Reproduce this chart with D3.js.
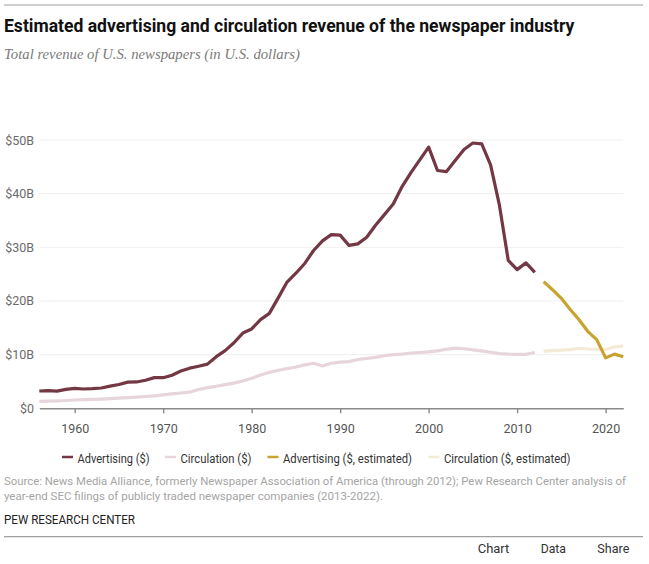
<!DOCTYPE html>
<html><head><meta charset="utf-8">
<script src="https://cdn.jsdelivr.net/npm/d3@7"></script>
<style>
html,body{margin:0;padding:0;background:#fff;}
svg{display:block;}
</style></head>
<body>
<svg id="c" width="649" height="564"></svg>
<script>
const years = d3.range(1956, 2013);
const advertising = [3.22,3.28,3.19,3.53,3.70,3.60,3.66,3.78,4.12,4.43,4.87,4.91,5.23,5.71,5.70,6.17,6.94,7.48,7.84,8.23,9.62,10.75,12.21,14.02,14.79,16.53,17.69,20.58,23.52,25.17,26.99,29.41,31.20,32.37,32.28,30.35,30.64,31.87,34.11,36.09,38.08,41.33,43.93,46.29,48.67,44.31,44.10,46.16,48.24,49.44,49.28,45.38,37.85,27.56,25.84,27.10,25.32];
const circulation = [1.30,1.35,1.40,1.45,1.55,1.60,1.65,1.72,1.80,1.90,2.00,2.10,2.20,2.30,2.50,2.70,2.85,3.00,3.50,3.85,4.10,4.40,4.70,5.10,5.60,6.20,6.70,7.10,7.40,7.70,8.10,8.40,7.90,8.40,8.60,8.70,9.10,9.30,9.50,9.80,10.00,10.10,10.30,10.40,10.50,10.70,11.00,11.20,11.10,10.90,10.70,10.45,10.20,10.10,10.05,10.05,10.40];
const estYears = d3.range(2013, 2023);
const advertisingEst = [23.6,22.1,20.5,18.4,16.5,14.3,12.8,9.4,10.1,9.6];
const circulationEst = [10.65,10.75,10.85,10.95,11.15,11.05,11.0,10.95,11.45,11.6];
const yTicks = [0,10,20,30,40,50];
const xTicks = [1960,1970,1980,1990,2000,2010,2020];
const seriesNames = ["Advertising ($)","Circulation ($)","Advertising ($, estimated)","Circulation ($, estimated)"];
const seriesColors = ["#733843","#e8d5dc","#c9a330","#f3ebd5"];

const svg = d3.select("#c");
const x = d3.scaleLinear().domain([1956, 2022]).range([39.3, 623.3]);
const y = d3.scaleLinear().domain([0, 50]).range([408.3, 140]);

const sans = "Roboto,'Liberation Sans','DejaVu Sans',sans-serif";

// shrink text to a target width: compress glyphs horizontally if wider
function fitLen(sel, w){
  const cur = sel.node().getComputedTextLength();
  if (cur > w) sel.attr("textLength", w).attr("lengthAdjust","spacingAndGlyphs");
  else sel.attr("font-size", (parseFloat(sel.attr("font-size")) * w / cur).toFixed(2));
}

// top rule
svg.append("line").attr("x1",4).attr("x2",643).attr("y1",5).attr("y2",5).attr("stroke","#a0a0a0").attr("stroke-width",1.2);

const title = svg.append("text").attr("x",4).attr("y",31.5).attr("font-family",sans).attr("font-weight","bold")
  .attr("font-size",17.5).attr("fill","#111").text("Estimated advertising and circulation revenue of the newspaper industry");
fitLen(title, 571);
const sub = svg.append("text").attr("x",4).attr("y",59).attr("font-family","'Liberation Serif','DejaVu Serif',serif").attr("font-style","italic")
  .attr("font-size",15).attr("fill","#7a7a7a").text("Total revenue of U.S. newspapers (in U.S. dollars)");
fitLen(sub, 296);

// grid
svg.append("g").selectAll("line").data(yTicks.filter(d=>d>0)).join("line")
  .attr("x1",x.range()[0]).attr("x2",x.range()[1]).attr("y1",d=>y(d)).attr("y2",d=>y(d))
  .attr("stroke","#efefef").attr("stroke-width",1);

svg.append("g").selectAll("text").data(yTicks).join("text")
  .attr("x",34).attr("y",d=>y(d)).attr("dy","0.36em").attr("text-anchor","end")
  .attr("font-family",sans).attr("font-size",12.5).attr("fill","#6b6b6b")
  .text(d=> d===0 ? "$0" : "$"+d+"B");

// x axis
const xAxis = d3.axisBottom(x).tickValues(xTicks).tickFormat(d3.format("d")).tickSize(5).tickSizeOuter(0);
const gx = svg.append("g").attr("transform",`translate(0,${y(0)})`).call(xAxis);
gx.select(".domain").attr("stroke","#8a8a8a").attr("stroke-width",1.4);
gx.selectAll(".tick line").attr("stroke","#8a8a8a").attr("stroke-width",1.4);
gx.selectAll(".tick text").attr("font-family",sans).attr("font-size",12.5).attr("fill","#555").attr("dy","1.3em");

// lines
const line = d3.line().x(d=>x(d[0])).y(d=>y(d[1]));
const data = [
  d3.zip(years, circulation),
  d3.zip(estYears, circulationEst),
  d3.zip(years, advertising),
  d3.zip(estYears, advertisingEst)
];
const colorIdx = [1,3,0,2];
svg.append("g").selectAll("path").data(data).join("path")
  .attr("d", line).attr("fill","none")
  .attr("stroke",(d,i)=>seriesColors[colorIdx[i]]).attr("stroke-width",3.2)
  .attr("stroke-linejoin","round");

// legend
const legX = [62,165,267.5,428.5];
const legW = [72,71,129,126.5];
const lg = svg.append("g");
seriesNames.forEach((n,i)=>{
  lg.append("line").attr("x1",legX[i]).attr("x2",legX[i]+11).attr("y1",457).attr("y2",457)
    .attr("stroke",seriesColors[i]).attr("stroke-width",2.5);
  const t = lg.append("text").attr("x",legX[i]+15.5).attr("y",458.3).attr("dy","0.36em")
    .attr("font-family",sans).attr("font-size",12.5).attr("fill","#333").text(n);
  fitLen(t, legW[i]);
});

// source
const s1 = svg.append("text").attr("x",4).attr("y",485).attr("font-family",sans).attr("font-size",11.5).attr("fill","#a5a5a5")
  .text("Source: News Media Alliance, formerly Newspaper Association of America (through 2012); Pew Research Center analysis of");
fitLen(s1, 622);
const s2 = svg.append("text").attr("x",4).attr("y",500).attr("font-family",sans).attr("font-size",11.5).attr("fill","#a5a5a5")
  .text("year-end SEC filings of publicly traded newspaper companies (2013-2022).");
fitLen(s2, 379);
const pew = svg.append("text").attr("x",4).attr("y",524).attr("font-family",sans).attr("font-size",12).attr("fill","#222")
  .text("PEW RESEARCH CENTER");
fitLen(pew, 131);

svg.append("line").attr("x1",4).attr("x2",643).attr("y1",536.7).attr("y2",536.7).attr("stroke","#a0a0a0").attr("stroke-width",1.2);

const nav = [["Chart",477.7,31.6],["Data",540.7,25.3],["Share",597.3,32]];
nav.forEach(([t,x0,w])=>{
  const e = svg.append("text").attr("x",x0).attr("y",553.3).attr("font-family",sans)
    .attr("font-size",13.5).attr("fill","#333").text(t);
  fitLen(e, w);
});
</script>
</body></html>
